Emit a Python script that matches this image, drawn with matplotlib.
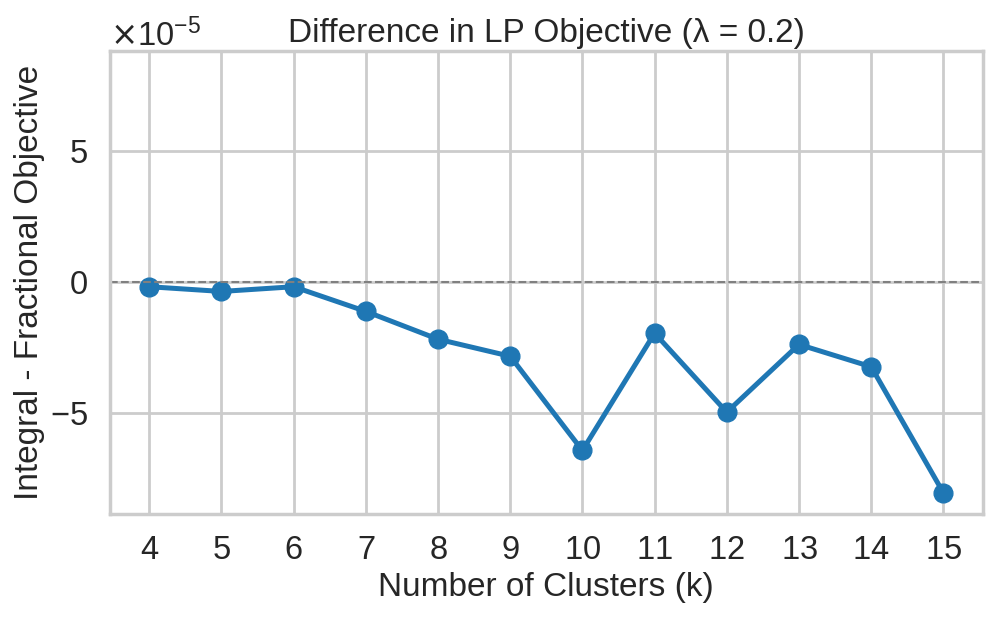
import matplotlib
matplotlib.use("Agg")
import matplotlib.pyplot as plt
import seaborn as sns
import numpy as np

sns.set_theme(style="whitegrid", context="poster")
plt.rcParams['font.family'] = ['Liberation Sans', 'DejaVu Sans']
plt.rcParams['axes.formatter.use_mathtext'] = True

k_values = [4, 5, 6, 7, 8, 9, 10, 11, 12, 13, 14, 15]
diff = [-0.17e-5, -0.35e-5, -0.17e-5, -1.11e-5, -2.17e-5, -2.82e-5,
        -6.41e-5, -1.94e-5, -4.95e-5, -2.37e-5, -3.22e-5, -8.02e-5]

fig, ax = plt.subplots(figsize=(9.96, 6.19), dpi=100)
ax.plot(k_values, diff, marker='o', color='#1f77b4', linewidth=3.6, markersize=13.5)
ax.axhline(0, color='gray', linestyle='--', linewidth=1.5)
m = max(abs(v) for v in diff) * 1.1
ax.set_ylim(-m, m)
ax.set_xticks(k_values)
ax.tick_params(labelsize=23.5)
ax.yaxis.get_offset_text().set_fontsize(23.5)
ax.set_xlabel("Number of Clusters (k)")
ax.set_ylabel("Integral - Fractional Objective")
ax.set_title("Difference in LP Objective (λ = 0.2)")
fig.subplots_adjust(left=0.11, right=0.987, top=0.918, bottom=0.17)
fig.savefig("out.png", dpi=100)
